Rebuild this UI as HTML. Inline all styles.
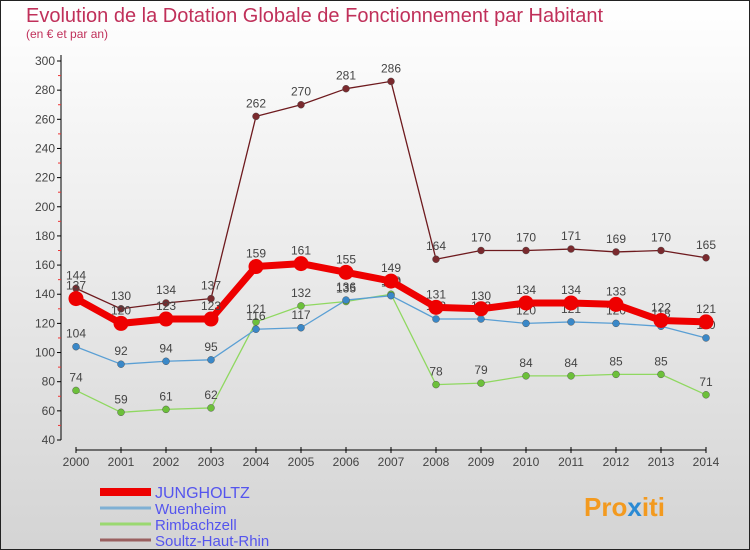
<!DOCTYPE html>
<html><head><meta charset="utf-8"><style>
body{margin:0;width:750px;height:550px;overflow:hidden;font-family:"Liberation Sans",sans-serif}
svg{display:block}
</style></head><body>
<svg id="c" width="750" height="550" xmlns="http://www.w3.org/2000/svg">
<defs><linearGradient id="bg" x1="0" y1="0" x2="0" y2="1"><stop offset="0" stop-color="#ffffff"/><stop offset="1" stop-color="#d4d4d4"/></linearGradient></defs>
<rect x="0.5" y="0.5" width="749" height="549" fill="url(#bg)" stroke="#222"/>
<text x="26" y="22" font-size="20" fill="#c0305a">Evolution de la Dotation Globale de Fonctionnement par Habitant</text>
<text x="26" y="38" font-size="12" fill="#c0305a">(en € et par an)</text>
<g id="axes"></g><g id="series"></g><g id="legend"></g>
<text x="584" y="516" font-size="26" font-weight="bold" fill="#f39a1f">Pro<tspan fill="#2a8ad4">x</tspan>iti</text>
</svg>
<script>
const years=[2000,2001,2002,2003,2004,2005,2006,2007,2008,2009,2010,2011,2012,2013,2014];
const yTicks=[40,60,80,100,120,140,160,180,200,220,240,260,280,300];
const jungholtz=[137,120,123,123,159,161,155,149,131,130,134,134,133,122,121];
const wuenheim=[104,92,94,95,116,117,136,139,123,123,120,121,120,118,110];
const rimbachzell=[74,59,61,62,121,132,135,140,78,79,84,84,85,85,71];
const soultz=[144,130,134,137,262,270,281,286,164,170,170,171,169,170,165];
const seriesNames=["JUNGHOLTZ","Wuenheim","Rimbachzell","Soultz-Haut-Rhin"];
const NS="http://www.w3.org/2000/svg";
function xS(i){return 76+i*45;}
function yS(v){return 440-(v-40)*379/260;}
function mk(tag,attrs,parent){const e=document.createElementNS(NS,tag);for(const k in attrs)e.setAttribute(k,attrs[k]);parent.appendChild(e);return e;}
const ax=document.getElementById('axes');
let e=mk('line',{x1:61,y1:55,x2:61,y2:440,stroke:'#000'},ax);


yTicks.forEach(t=>{const y=yS(t);
 mk('line',{x1:57,y1:y,x2:61,y2:y,stroke:'#000'},ax);
 if(t<300) mk('line',{x1:58,y1:yS(t+10),x2:61,y2:yS(t+10),stroke:'#e33'},ax);
 const tx=mk('text',{x:55,y:y+4,'font-size':12,fill:'#444','text-anchor':'end'},ax);tx.textContent=t;
 
 
});
e=mk('line',{x1:76,y1:450,x2:706,y2:450,stroke:'#000'},ax);


years.forEach((yr,i)=>{mk('line',{x1:xS(i),y1:447,x2:xS(i),y2:453,stroke:'#000'},ax);
 const tx=mk('text',{x:xS(i),y:466,'font-size':12,fill:'#444','text-anchor':'middle'},ax);tx.textContent=yr;
 
 
});
const sg=document.getElementById('series');
const defs=[[soultz,'#6e1a1e','#7a2a2e',1.3,3.5],[rimbachzell,'#8fd860','#6cc03a',1.3,3.5],[wuenheim,'#5a9fd4','#3a88c8',1.3,3.5],[jungholtz,'#ee0000','#ee0000',7,7.5]];
const names=['series-soultz','series-rimbachzell','series-wuenheim','series-jungholtz'];
defs.forEach((d,k)=>{const g=mk('g',{},sg);
 
 
 mk('polyline',{points:d[0].map((v,i)=>xS(i)+','+yS(v)).join(' '),fill:'none',stroke:d[1],'stroke-width':d[3],'stroke-linejoin':'round'},g);
 d[0].forEach((v,i)=>{const c=mk('circle',{cx:xS(i),cy:yS(v),r:d[4],fill:d[2],stroke:k==3?'none':'#444','stroke-width':0.4},g);
  
  
  const t=mk('text',{x:xS(i),y:yS(v)-9,'font-size':12,fill:'#444','text-anchor':'middle'},g);t.textContent=v;
  
  
 });
});
const lg=document.getElementById('legend');
const lc=[['#ee0000',8],['#7fb0d4',3],['#9ad870',3],['#9a6060',3]];
seriesNames.forEach((n,i)=>{const y=492+i*16;
 const g=mk('g',{},lg);
 
 
 mk('line',{x1:100,y1:y,x2:151,y2:y,stroke:lc[i][0],'stroke-width':lc[i][1]},g);
 const t=mk('text',{x:155,y:y+6,'font-size':i==0?16:15,fill:'#5555ee'},g);t.textContent=n;
});
</script>
</body></html>
